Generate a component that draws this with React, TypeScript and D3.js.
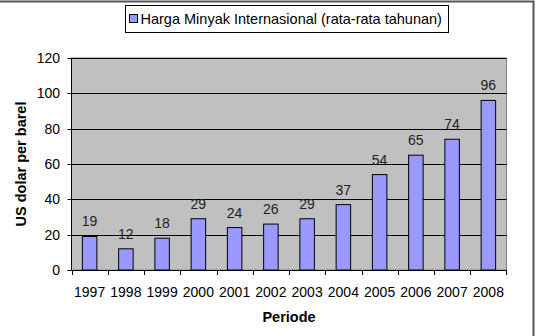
import React from "react";
import * as d3 from "d3";

// Harga minyak internasional, rata-rata tahunan (USD/barel)
const years = ["1997", "1998", "1999", "2000", "2001", "2002", "2003", "2004", "2005", "2006", "2007", "2008"];
const prices = [19, 12, 18, 29, 24, 26, 29, 37, 54, 65, 74, 96];
const yTicks = [0, 20, 40, 60, 80, 100, 120];

const W = 537;
const H = 336;
const plot = { left: 71.5, right: 506.5, top: 58, bottom: 270 };
const font = "Liberation Sans, Arial, sans-serif";

export default function App() {
  const x = d3
    .scaleBand<string>()
    .domain(years)
    .range([plot.left, plot.right]);
  const y = d3.scaleLinear().domain([0, 120]).range([plot.bottom, plot.top]);
  const barW = x.bandwidth() / 2.5;

  return (
    <svg
      width={W}
      height={H}
      style={{ position: "absolute", left: 0, top: 0, fontFamily: font }}
    >
      <rect width={W} height={H} fill="#fff" />
      {/* chart frame, cut off on the left and bottom */}
      <rect x={-5} y={1.5} width={538.5} height={H + 10} fill="none" stroke="#555" strokeWidth={2} />

      {/* legend */}
      <rect x={125.5} y={5.5} width={323} height={27} fill="#fff" stroke="#000" />
      <rect x={129.5} y={14.5} width={8} height={8} fill="#9999ff" stroke="#000" />
      <text x={140.5} y={24} fontSize={14.5} fill="#000">
        Harga Minyak Internasional (rata-rata tahunan)
      </text>

      {/* plot area */}
      <rect
        x={plot.left}
        y={plot.top}
        width={plot.right - plot.left}
        height={plot.bottom - plot.top}
        fill="#c0c0c0"
        stroke="#808080"
      />
      {yTicks.slice(1).map((t) => (
        <line
          key={t}
          x1={plot.left}
          x2={plot.right}
          y1={Math.round(y(t)) + 0.5}
          y2={Math.round(y(t)) + 0.5}
          stroke="#000"
        />
      ))}

      {/* bars */}
      {prices.map((v, i) => {
        const cx = x(years[i])! + x.bandwidth() / 2;
        return (
          <g key={years[i]}>
            <rect
              x={cx - barW / 2}
              y={y(v)}
              width={barW}
              height={plot.bottom - y(v)}
              fill="#9999ff"
              stroke="#000"
            />
            <text x={cx} y={y(v) - 10} textAnchor="middle" fontSize={14} fill="#222">
              {v}
            </text>
          </g>
        );
      })}

      {/* y axis */}
      <line x1={plot.left} x2={plot.left} y1={plot.top} y2={plot.bottom} stroke="#000" />
      {yTicks.map((t) => (
        <g key={t}>
          <line
            x1={plot.left - 4}
            x2={plot.left}
            y1={Math.round(y(t)) + 0.5}
            y2={Math.round(y(t)) + 0.5}
            stroke="#000"
          />
          <text x={plot.left - 11.5} y={y(t) + 5} textAnchor="end" fontSize={14} fill="#000">
            {t}
          </text>
        </g>
      ))}

      {/* x axis */}
      <line x1={plot.left} x2={plot.right} y1={plot.bottom + 0.5} y2={plot.bottom + 0.5} stroke="#000" />
      {years.map((yr) => (
        <line
          key={"t" + yr}
          x1={Math.round(x(yr)!) + 0.5}
          x2={Math.round(x(yr)!) + 0.5}
          y1={plot.bottom}
          y2={plot.bottom + 5}
          stroke="#000"
        />
      ))}
      <line x1={plot.right} x2={plot.right} y1={plot.bottom} y2={plot.bottom + 5} stroke="#000" />
      {years.map((yr) => (
        <text
          key={yr}
          x={x(yr)! + x.bandwidth() / 2}
          y={297}
          textAnchor="middle"
          fontSize={14}
          fill="#000"
        >
          {yr}
        </text>
      ))}

      {/* axis titles */}
      <text x={(plot.left + plot.right) / 2} y={322} textAnchor="middle" fontSize={14.5} fontWeight="bold">
        Periode
      </text>
      <text
        transform={`translate(26,${(plot.top + plot.bottom) / 2}) rotate(-90)`}
        textAnchor="middle"
        fontSize={14.5}
        fontWeight="bold"
      >
        US dolar per barel
      </text>
    </svg>
  );
}
